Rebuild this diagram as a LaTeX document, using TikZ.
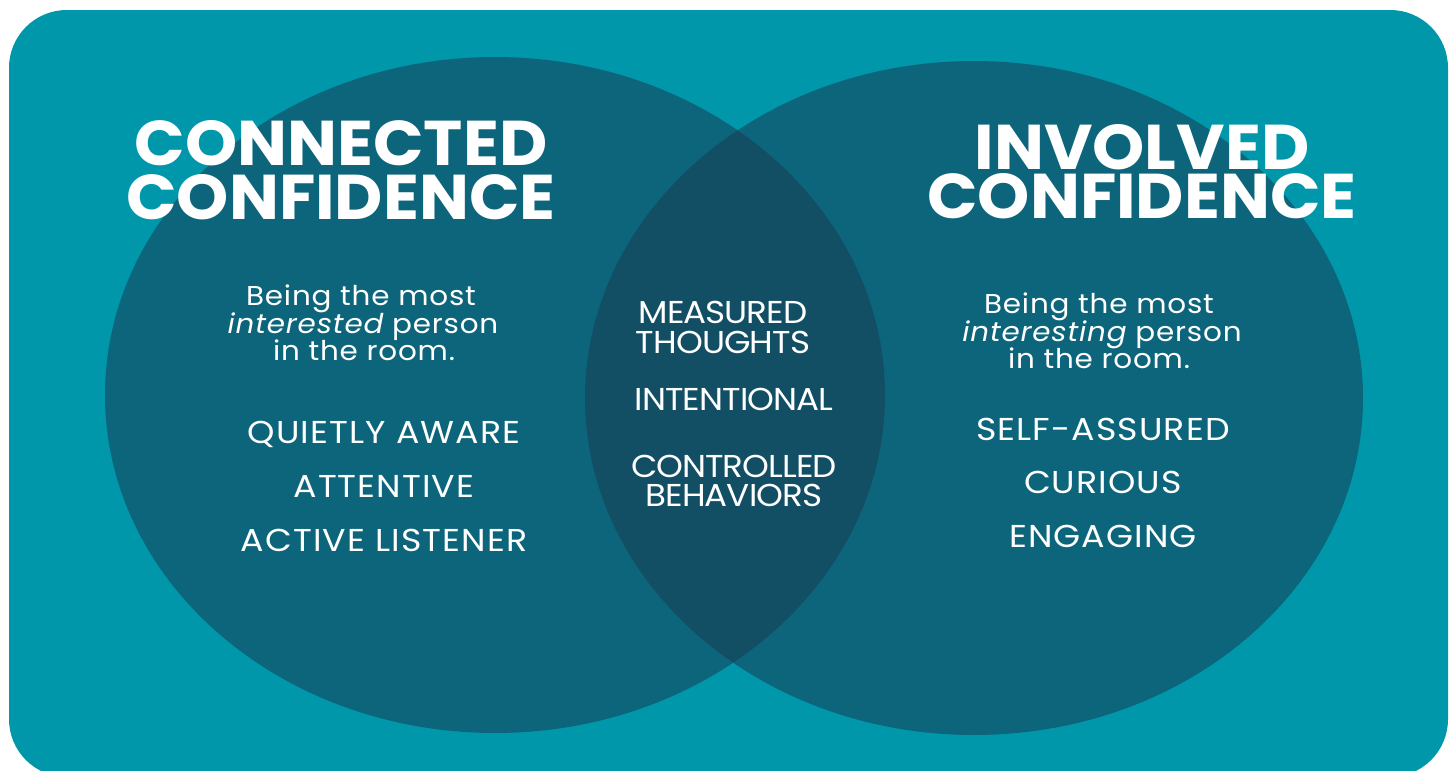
\documentclass[tikz,border=0pt]{standalone}
\usepackage{fontspec}
\setmainfont{Poppins}[FakeStretch=1.08]
\newfontfamily\headfont[FakeStretch=1.05]{Poppins}
\newfontfamily\bodyfont[FakeStretch=1.08,LetterSpace=3]{Poppins}
\newfontfamily\traitfont[FakeStretch=1.1,LetterSpace=3.5]{Poppins}
\newfontfamily\tightfont[FakeStretch=1.08,LetterSpace=-3]{Poppins}
\usetikzlibrary{positioning}

\definecolor{bgteal}{RGB}{0,151,170}
\definecolor{ringblue}{RGB}{13,101,123}
\definecolor{overlapblue}{RGB}{18,79,101}

\tikzset{
  heading/.style={text=white,inner sep=0pt,anchor=base,align=center,font=\headfont\bfseries\fontsize{36}{30.3}\selectfont},
  tagline/.style={text=white,inner sep=0pt,anchor=base,font=\bodyfont\fontsize{15.5}{15}\selectfont},
  trait/.style={text=white,inner sep=0pt,anchor=base,font=\traitfont\fontsize{18}{18}\selectfont},
  midtrait/.style={text=white,inner sep=0pt,anchor=base,font=\tightfont\fontsize{18}{18}\selectfont}
}

\begin{document}
\begin{tikzpicture}[x=0.02cm,y=-0.02cm]
  \useasboundingbox (0,0) rectangle (1455,771);
  % backdrop and the two rings
  \fill [bgteal,rounded corners=32.9pt] (9,10) rectangle (1448,777);
  \fill [ringblue] (495,395) ellipse [x radius=390,y radius=338];
  \fill [ringblue] (974,398) ellipse [x radius=389,y radius=337];
  \begin{scope}
    \clip (495,395) ellipse [x radius=390,y radius=338];
    \fill [overlapblue] (974,398) ellipse [x radius=389,y radius=337];
  \end{scope}

  % left ring
  \node [heading] (conHead) at (341,219) {CONNECTED\\CONFIDENCE};
  \node [tagline] (conTagA) at (361,305) {Being the most};
  \node [tagline] (conTagB) at (363,333) {\itshape interested\upshape{} person};
  \node [tagline] (conTagC) at (364,360) {in the room.};
  \node [trait] (quiet) at (384,443) {QUIETLY AWARE};
  \node [trait] (attentive) at (384,497) {ATTENTIVE};
  \node [trait] (listener) at (384,551) {ACTIVE LISTENER};

  % overlap
  \node [midtrait] (measA) at (723,323) {MEASURED};
  \node [midtrait] (measB) at (723,353) {THOUGHTS};
  \node [midtrait] (intent) at (734,410) {INTENTIONAL};
  \node [midtrait] (ctrlA) at (734,477) {CONTROLLED};
  \node [midtrait] (ctrlB) at (734,506) {BEHAVIORS};

  % right ring
  \node [heading,font=\headfont\bfseries\fontsize{36}{27.5}\selectfont] (invHead) at (1142,218) {INVOLVED\\CONFIDENCE};
  \node [tagline] (invTagA) at (1099,313) {Being the most};
  \node [tagline] (invTagB) at (1102,341) {\itshape interesting\upshape{} person};
  \node [tagline] (invTagC) at (1099,368) {in the room.};
  \node [trait] (assured) at (1103,440) {SELF-ASSURED};
  \node [trait] (curious) at (1103,493) {CURIOUS};
  \node [trait] (engaging) at (1103,547) {ENGAGING};
\end{tikzpicture}
\end{document}
